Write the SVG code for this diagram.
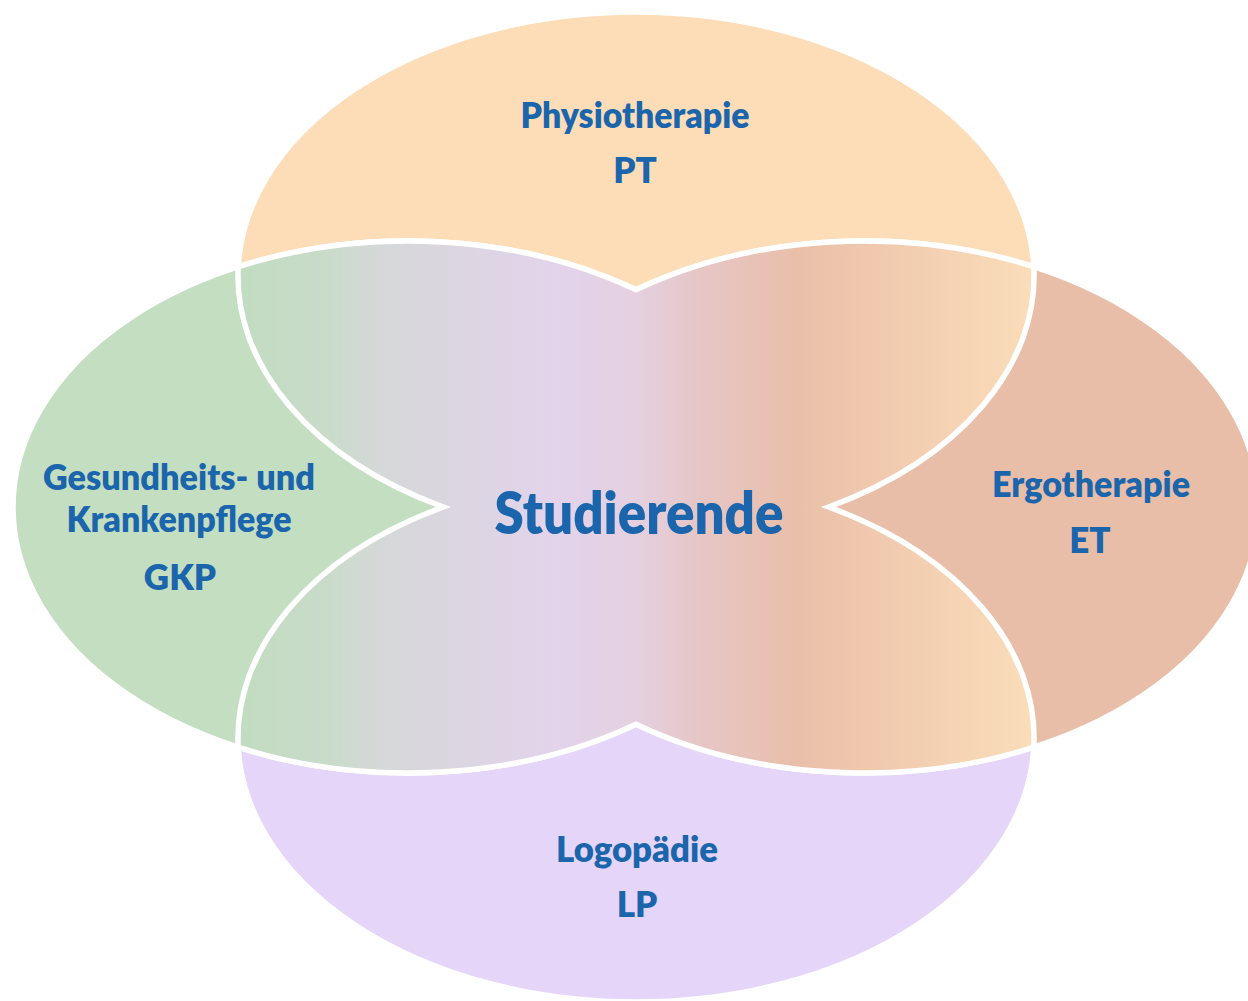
<svg xmlns="http://www.w3.org/2000/svg" width="1248" height="1001" viewBox="0 0 1248 1001">
  <style>
    .petal { stroke: #ffffff; stroke-width: 5.5; }
    .lbl { font-family: Lato, "Open Sans", "Liberation Sans", sans-serif; font-weight: 800; font-size: 35px; fill: #1A65AC; text-anchor: middle; }
    .big { font-size: 58px; }
  </style>
  <defs>
    <linearGradient id="centerGrad" gradientUnits="userSpaceOnUse" x1="238" y1="0" x2="1034" y2="0">
      <stop offset="0" stop-color="#C1DCC0"/>
      <stop offset="0.11" stop-color="#C9DBC9"/>
      <stop offset="0.18" stop-color="#D5D8D8"/>
      <stop offset="0.40" stop-color="#E3D3EB"/>
      <stop offset="0.50" stop-color="#E4D0E0"/>
      <stop offset="0.58" stop-color="#E6C6C6"/>
      <stop offset="0.70" stop-color="#E9BFA9"/>
      <stop offset="0.82" stop-color="#F1CBAF"/>
      <stop offset="1" stop-color="#FADDB9"/>
    </linearGradient>
  </defs>
  <rect width="1248" height="1001" fill="#ffffff"/>

  <g id="node-top">
    <ellipse class="petal" cx="636" cy="276" rx="398" ry="264" fill="#FCDDB8"/>
    <text class="lbl" x="635" y="128" textLength="229" lengthAdjust="spacingAndGlyphs">Physiotherapie</text>
    <text class="lbl" x="635" y="183">PT</text>
  </g>

  <g id="node-bottom">
    <ellipse class="petal" cx="636" cy="738" rx="398" ry="264" fill="#E4D5F9"/>
    <text class="lbl" x="637" y="862" textLength="162" lengthAdjust="spacingAndGlyphs">Logopädie</text>
    <text class="lbl" x="637" y="917">LP</text>
  </g>

  <g id="node-left">
    <ellipse class="petal" cx="408" cy="507" rx="395" ry="266" fill="#C3DEC1"/>
    <text class="lbl" x="179" y="490" textLength="272" lengthAdjust="spacingAndGlyphs">Gesundheits- und</text>
    <text class="lbl" x="179" y="532" textLength="225" lengthAdjust="spacingAndGlyphs">Krankenpflege</text>
    <text class="lbl" x="180" y="590">GKP</text>
  </g>

  <g id="node-right">
    <ellipse class="petal" cx="864" cy="507" rx="395" ry="266" fill="#E8BEA8"/>
    <text class="lbl" x="1091" y="497" textLength="198" lengthAdjust="spacingAndGlyphs">Ergotherapie</text>
    <text class="lbl" x="1090" y="553">ET</text>
  </g>

  <g id="node-center">
    <path class="petal" fill="url(#centerGrad)" stroke-linejoin="miter"
      d="M 238.2 266.8
         A 395 266 0 0 1 636 289.8
         A 395 266 0 0 1 1033.8 266.8
         A 398 264 0 0 1 828.7 507
         A 398 264 0 0 1 1033.8 747.2
         A 395 266 0 0 1 636 724.2
         A 395 266 0 0 1 238.2 747.2
         A 398 264 0 0 1 443.3 507
         A 398 264 0 0 1 238.2 266.8 Z"/>
    <text class="lbl big" x="639" y="534" textLength="289" lengthAdjust="spacingAndGlyphs">Studierende</text>
  </g>

  <g id="connectors"/>
</svg>
